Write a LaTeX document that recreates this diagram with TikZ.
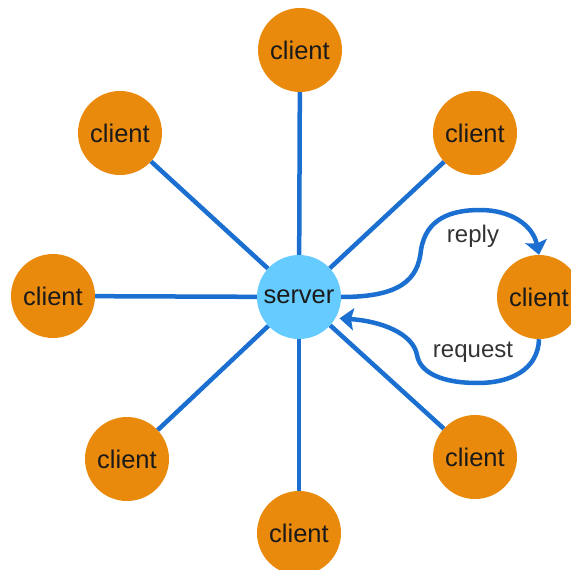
\documentclass[tikz,border=0pt]{standalone}
\usepackage{fontspec}
\setmainfont{Liberation Sans}
\usetikzlibrary{arrows.meta}
\definecolor{corange}{HTML}{EA8A0C}
\definecolor{cblue}{HTML}{66CCFF}
\definecolor{cline}{HTML}{1A6FD1}
\definecolor{ctext}{HTML}{1A1A1A}
\definecolor{clabel}{HTML}{333333}
\tikzset{
  clientnode/.style={circle,fill=corange,minimum size=84pt,inner sep=0pt,text=ctext,font=\fontsize{25.5}{30}\selectfont},
  servernode/.style={circle,fill=cblue,minimum size=84pt,inner sep=0pt,text=ctext,font=\fontsize{25.5}{30}\selectfont},
  spoke/.style={draw=cline,line width=4.5pt},
  flow/.style={draw=cline,line width=4.5pt,-{Stealth[width=22pt,length=14pt,inset=2.5pt]}},
  lbl/.style={text=clabel,font=\fontsize{24}{28}\selectfont,inner sep=0pt}
}
\begin{document}
\begin{tikzpicture}[x=1pt,y=-1pt]
\useasboundingbox (0,0) rectangle (571,570);
\node[servernode] (server) at (299,297) {server};
\node[clientnode] (cT)  at (300,50)  {client};
\node[clientnode] (cTL) at (120,133) {client};
\node[clientnode] (cTR) at (475,133) {client};
\node[clientnode] (cL)  at (53,296)  {client};
\node[clientnode] (cR)  at (539,297) {client};
\node[clientnode] (cBL) at (127,459) {client};
\node[clientnode] (cBR) at (475,457) {client};
\node[clientnode] (cB)  at (299,533) {client};
\foreach \c in {cT,cTL,cTR,cL,cBL,cBR,cB}
  \draw[spoke] (server) -- (\c);
\draw[flow] (server.east) .. controls (400,297) and (418,280) .. (421,250)
  .. controls (426,218) and (452,210) .. (480,210)
  .. controls (512,210) and (533,226) .. (cR.north);
\draw[flow,shorten >=4pt] (cR.south) .. controls (538,370) and (510,383) .. (478,383)
  .. controls (440,383) and (420,372) .. (417,355)
  .. controls (413,333) and (380,321) .. (server.-30);
\node[lbl] (lreply) at (473,236) {reply};
\node[lbl] (lreq) at (473,352) {request};
\end{tikzpicture}
\end{document}
